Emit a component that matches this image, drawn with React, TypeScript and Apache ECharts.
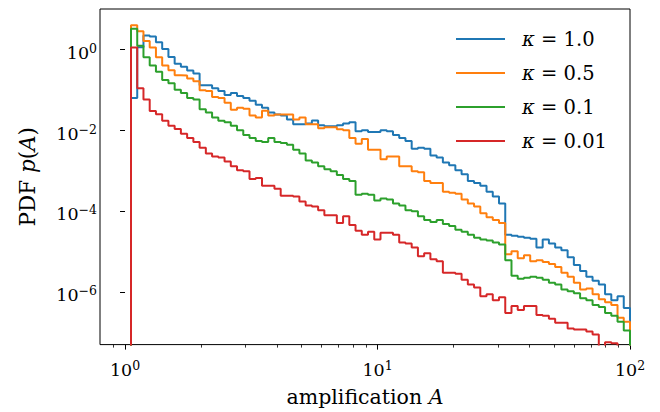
import React, { useEffect, useRef } from "react";
import * as echarts from "echarts";

// Histogram binning (log-spaced bins, as in the original)
const BIN_LO = 1.056;
const BIN_HI = 100;
const N_BINS = 80;

// Axis ranges
const X_MIN = 0.796;
const X_MAX = 100;
const Y_MIN = 5.0e-8;
const Y_MAX = 10.2;

const kappaLabels = ["1.0", "0.5", "0.1", "0.01"];
const colors = ["#1f77b4", "#ff7f0e", "#2ca02c", "#d62728"];

const pdfKappa1 = [
  0.064, 1.16, 2.26, 2.14, 1.53, 1.04, 0.665, 0.45, 0.381, 0.305,
  0.258, 0.132, 0.132, 0.112, 0.0946, 0.0757, 0.0846, 0.0716, 0.064, 0.0542,
  0.0434, 0.0367, 0.0278, 0.0248, 0.0235, 0.0188, 0.0142, 0.0142, 0.015, 0.0178,
  0.0135, 0.0127, 0.0127, 0.0135, 0.015, 0.0159, 0.00964, 0.0102, 0.00912, 0.00912,
  0.0102, 0.00964, 0.00772, 0.00653, 0.00552, 0.00354, 0.00374, 0.00354, 0.00239, 0.00214,
  0.00162, 0.00137, 0.00104, 0.00083, 0.000562, 0.000503, 0.000426, 0.000305, 0.000231, 0.000156,
  2.63e-5, 2.48e-5, 2.35e-5, 2.22e-5, 2.1e-5, 1.27e-5, 1.99e-5, 1.59e-5, 1.27e-5, 1.08e-5,
  7.29e-6, 4.67e-6, 3.34e-6, 2.39e-6, 1.91e-6, 1.53e-6, 8.77e-7, 6.28e-7, 7.85e-7, 4.02e-7,
];

const pdfKappa05 = [
  4.02, 2.88, 1.65, 1.14, 0.654, 0.409, 0.31, 0.235, 0.231, 0.195,
  0.165, 0.0996, 0.0946, 0.0677, 0.064, 0.0485, 0.0328, 0.0367, 0.0347, 0.0235,
  0.021, 0.031, 0.0235, 0.0248, 0.0248, 0.0248, 0.0188, 0.021, 0.0142, 0.0142,
  0.0114, 0.012, 0.012, 0.0108, 0.0102, 0.00653, 0.00467, 0.00617, 0.00334, 0.00334,
  0.00193, 0.00226, 0.00226, 0.0013, 0.0013, 0.00098, 0.000929, 0.000562, 0.000503, 0.000503,
  0.000305, 0.000288, 0.000273, 0.000195, 0.000156, 0.000132, 8.94e-5, 7.16e-5, 6.05e-5, 5.12e-5,
  8.62e-6, 1.02e-5, 6.9e-6, 8.15e-6, 5.83e-6, 6.17e-6, 5.52e-6, 4.94e-6, 4.18e-6, 2.99e-6,
  2.39e-6, 1.71e-6, 1.16e-6, 1.23e-6, 8.77e-7, 6.64e-7, 5.62e-7, 4.75e-7, 2.31e-7, 1.85e-7,
];

const pdfKappa01 = [
  3.29, 1.25, 0.654, 0.409, 0.283, 0.178, 0.148, 0.102, 0.0846, 0.064,
  0.0583, 0.0334, 0.0278, 0.021, 0.0175, 0.0159, 0.0132, 0.0102, 0.00772, 0.00653,
  0.00552, 0.00522, 0.00653, 0.00522, 0.00494, 0.00442, 0.00334, 0.00268, 0.00181, 0.00162,
  0.0013, 0.0011, 0.00098, 0.000786, 0.000629, 0.000562, 0.000258, 0.000273, 0.000258, 0.000185,
  0.000206, 0.000195, 0.000156, 0.00014, 0.000106, 0.0001, 7.57e-5, 6.05e-5, 5.42e-5, 6.05e-5,
  4.84e-5, 4.33e-5, 3.47e-5, 3.1e-5, 2.63e-5, 2.22e-5, 1.99e-5, 1.88e-5, 1.68e-5, 1.5e-5,
  6.17e-6, 2.53e-6, 2.14e-6, 2.26e-6, 2.39e-6, 2.26e-6, 2.02e-6, 1.71e-6, 1.53e-6, 1.16e-6,
  1.04e-6, 9.28e-7, 7.02e-7, 6.28e-7, 4.75e-7, 4.25e-7, 3.04e-7, 2.58e-7, 1.85e-7, 1.12e-7,
];

const pdfKappa001 = [
  1.14, 0.112, 0.0583, 0.0305, 0.0253, 0.0175, 0.0132, 0.01095, 0.00829, 0.00653,
  0.00522, 0.00374, 0.00268, 0.00226, 0.00214, 0.00171, 0.0013, 0.00104, 0.00098, 0.000629,
  0.000665, 0.000426, 0.000426, 0.00036, 0.000244, 0.000244, 0.000231, 0.000174, 0.00014, 0.000132,
  0.000106, 7.98e-5, 7.98e-5, 5.12e-5, 7.57e-5, 4.58e-5, 3.28e-5, 2.63e-5, 3.1e-5, 1.99e-5,
  2.93e-5, 2.93e-5, 2.63e-5, 1.68e-5, 1.59e-5, 1.27e-5, 7.71e-6, 9.11e-6, 6.52e-6, 5.83e-6,
  2.99e-6, 2.99e-6, 2.83e-6, 2.02e-6, 1.53e-6, 1.3e-6, 7.85e-7, 8.77e-7, 6.28e-7, 7.42e-7,
  3.04e-7, 4.5e-7, 3.6e-7, 4.5e-7, 4.5e-7, 2.72e-7, 2.58e-7, 2.17e-7, 1.75e-7, 1.75e-7,
  1.25e-7, 1.18e-7, 1.18e-7, 1.06e-7, 8.94e-8, 0, 5.73e-8, 5.42e-8, 0, 0,
];

const seriesValues = [pdfKappa1, pdfKappa05, pdfKappa01, pdfKappa001];

const xMajorTicks = [1, 10, 100];
const xMinorTicks = [0.9, 2, 3, 4, 5, 6, 7, 8, 9, 20, 30, 40, 50, 60, 70, 80, 90];
const yMajorTicks = [1e-6, 1e-4, 1e-2, 1];

const FONT = "'DejaVu Serif', serif";
const EMPTY = 1e-12; // empty bins fall below the axis on a log scale

function binEdges(): number[] {
  const lo = Math.log10(BIN_LO);
  const hi = Math.log10(BIN_HI);
  const edges: number[] = [];
  for (let i = 0; i <= N_BINS; i++) edges.push(Math.pow(10, lo + ((hi - lo) * i) / N_BINS));
  return edges;
}

function stepData(values: number[], edges: number[]): number[][] {
  const pts: number[][] = [[edges[0], EMPTY]];
  values.forEach((v, i) => pts.push([edges[i], v > 0 ? v : EMPTY]));
  const last = values[values.length - 1];
  pts.push([edges[values.length], last > 0 ? last : EMPTY]);
  pts.push([edges[values.length], EMPTY]);
  return pts;
}

function expText(n: number): string {
  const r = Math.round(n);
  return r < 0 ? "\u2212" + String(-r) : String(r);
}

const tickRich = {
  b: { fontFamily: FONT, fontSize: 17.5, color: "#000", lineHeight: 21 },
  s: { fontFamily: FONT, fontSize: 12.5, color: "#000", lineHeight: 13, padding: [0, 0, 9, 0] },
};

export default function App() {
  const ref = useRef<HTMLDivElement>(null);

  useEffect(() => {
    if (!ref.current) return;
    const chart = echarts.init(ref.current, undefined, { renderer: "svg" });
    const edges = binEdges();

    const option: any = {
      animation: false,
      backgroundColor: "#fff",
      grid: {
        left: 100,
        top: 9,
        width: 530,
        height: 343.5,
        show: true,
        borderColor: "#000",
        borderWidth: 1,
        backgroundColor: "transparent",
      },
      legend: {
        orient: "vertical",
        left: 456,
        top: 29,
        padding: 0,
        itemGap: 14,
        itemWidth: 49,
        itemHeight: 2,
        icon: "rect",
        data: kappaLabels.map((k) => "\u03ba = " + k),
        formatter: (name: string) => {
          const val = name.replace("\u03ba = ", "");
          return "{g|}{i|\u03ba} {t|= " + val + "}";
        },
        textStyle: {
          fontFamily: FONT,
          fontSize: 19.5,
          color: "#000",
          rich: {
            g: { width: 12, lineHeight: 22 },
            i: { fontFamily: FONT, fontStyle: "italic", fontSize: 19.5, lineHeight: 22, color: "#000" },
            t: { fontFamily: FONT, fontSize: 19.5, lineHeight: 22, color: "#000" },
          },
        },
      },
      xAxis: [
        {
          type: "log",
          logBase: 10,
          min: X_MIN,
          max: X_MAX,
          show: false,
          position: "bottom",
        },
        {
          type: "value",
          position: "bottom",
          min: Math.log10(X_MIN),
          max: Math.log10(X_MAX),
          axisLine: { show: false },
          splitLine: { show: false },
          axisTick: {
            show: true,
            length: 5,
            lineStyle: { color: "#000", width: 1 },
            customValues: xMajorTicks.map((v) => Math.log10(v)),
          },
          axisLabel: {
            customValues: xMajorTicks.map((v) => Math.log10(v)),
            margin: 15,
            formatter: (v: number) => "{b|10}{s|" + expText(v) + "}",
            rich: tickRich,
          },
          name: "amplification {i|A}",
          nameLocation: "middle",
          nameGap: 41,
          nameTextStyle: {
            fontFamily: FONT,
            fontSize: 20.5,
            color: "#000",
            rich: {
              i: { fontFamily: FONT, fontStyle: "italic", fontSize: 20.5, color: "#000" },
            },
          },
        },
        {
          type: "value",
          position: "bottom",
          min: Math.log10(X_MIN),
          max: Math.log10(X_MAX),
          axisLine: { show: false },
          splitLine: { show: false },
          axisTick: {
            show: true,
            length: 3,
            lineStyle: { color: "#000", width: 0.8 },
            customValues: xMinorTicks.map((v) => Math.log10(v)),
          },
          axisLabel: { show: false },
        },
      ],
      yAxis: [
        {
          type: "log",
          logBase: 10,
          min: Y_MIN,
          max: Y_MAX,
          show: false,
          position: "left",
        },
        {
          type: "value",
          position: "left",
          min: Math.log10(Y_MIN),
          max: Math.log10(Y_MAX),
          axisLine: { show: false },
          splitLine: { show: false },
          axisTick: {
            show: true,
            length: 5,
            lineStyle: { color: "#000", width: 1 },
            customValues: yMajorTicks.map((v) => Math.log10(v)),
          },
          axisLabel: {
            customValues: yMajorTicks.map((v) => Math.log10(v)),
            margin: 3,
            padding: [6, 0, 0, 0],
            formatter: (v: number) => "{b|10}{s|" + expText(v) + "}",
            rich: tickRich,
          },
          name: "PDF {i|p}({i|A})",
          nameLocation: "middle",
          nameRotate: 90,
          nameGap: 62,
          nameTextStyle: {
            fontFamily: FONT,
            fontSize: 21.5,
            color: "#000",
            rich: {
              i: { fontFamily: FONT, fontStyle: "italic", fontSize: 21.5, color: "#000" },
            },
          },
        },
      ],
      series: seriesValues.map((vals, i) => ({
        name: "\u03ba = " + kappaLabels[i],
        type: "line",
        step: "end",
        xAxisIndex: 0,
        yAxisIndex: 0,
        symbol: "none",
        clip: true,
        color: colors[i],
        lineStyle: { color: colors[i], width: 2 },
        data: stepData(vals, edges),
      })),
    };

    chart.setOption(option);
    return () => chart.dispose();
  }, []);

  return (
    <div
      ref={ref}
      style={{ position: "absolute", left: 0, top: 0, width: 660, height: 412 }}
    />
  );
}
